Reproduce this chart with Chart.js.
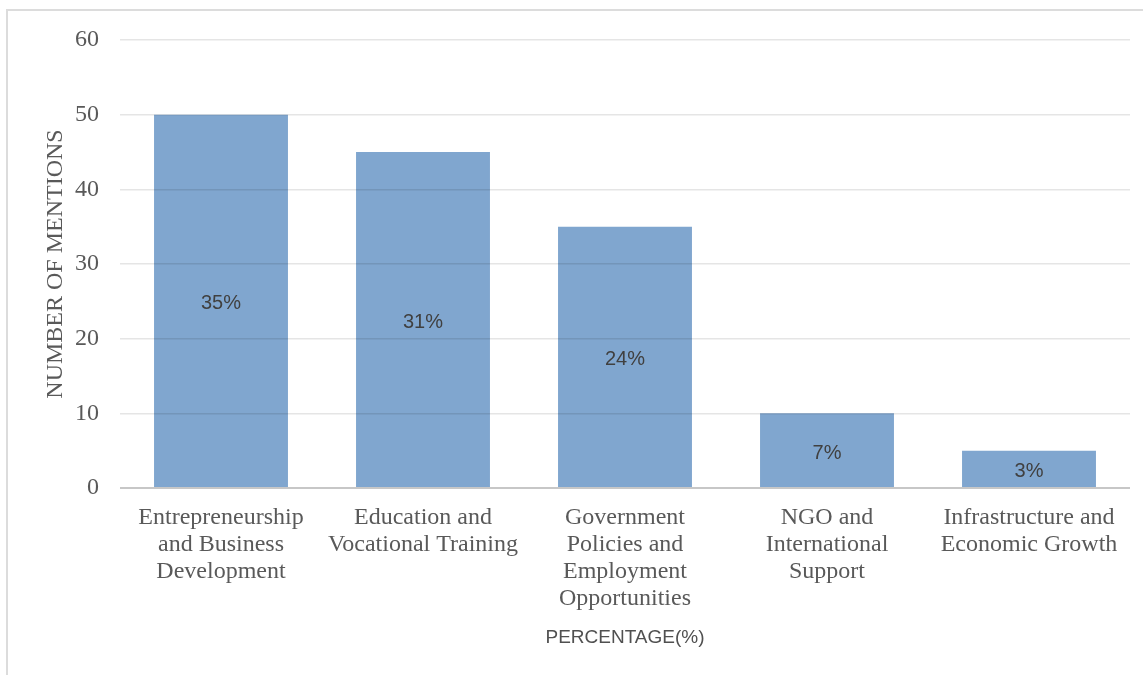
<!DOCTYPE html>
<html>
<head>
<meta charset="utf-8">
<script src="https://cdn.jsdelivr.net/npm/chart.js@4/dist/chart.umd.min.js"></script>
<style>
  html, body { margin: 0; padding: 0; background: #ffffff; overflow: hidden; }
  #frame {
    position: absolute; left: 6px; top: 9px; width: 1200px; height: 700px;
    border-left: 2px solid #dcdcdc; border-top: 2px solid #dcdcdc;
  }
  #wrap { position: absolute; left: 0; top: 0; width: 1143px; height: 675px; }
</style>
</head>
<body>
<div id="frame"></div>
<div id="wrap"><canvas id="chart" width="1143" height="675"></canvas></div>
<script>
// Categories (multi-line axis labels)
const categories = [
  ['Entrepreneurship', 'and Business', 'Development'],
  ['Education and', 'Vocational Training'],
  ['Government', 'Policies and', 'Employment', 'Opportunities'],
  ['NGO and', 'International', 'Support'],
  ['Infrastructure and', 'Economic Growth']
];

// Number of mentions per category
const mentions = [50, 45, 35, 10, 5];

// Share of mentions printed inside each bar
const percentLabels = ['35%', '31%', '24%', '7%', '3%'];

// Value axis ticks
const yTicks = [0, 10, 20, 30, 40, 50, 60];

const serif = '"Liberation Serif", "Times New Roman", serif';
const sans = '"Liberation Sans", Arial, sans-serif';

// Writes the percentage in the middle of each bar
const barLabels = {
  id: 'barLabels',
  afterDatasetsDraw(chart) {
    const ctx = chart.ctx;
    const meta = chart.getDatasetMeta(0);
    ctx.save();
    ctx.font = '20px ' + sans;
    ctx.fillStyle = '#404040';
    ctx.textAlign = 'center';
    ctx.textBaseline = 'middle';
    meta.data.forEach((bar, i) => {
      const p = bar.getProps(['x', 'y', 'base'], true);
      ctx.fillText(percentLabels[i], p.x, (p.y + p.base) / 2 + 3);
    });
    ctx.restore();
  }
};

new Chart(document.getElementById('chart'), {
  type: 'bar',
  data: {
    labels: categories,
    datasets: [{
      data: mentions,
      backgroundColor: '#80a6cf',
      borderWidth: 0,
      barPercentage: 0.663,
      categoryPercentage: 1.0
    }]
  },
  options: {
    responsive: false,
    animation: false,
    devicePixelRatio: 1,
    layout: { padding: { top: 40, right: 13, bottom: 0, left: 0 } },
    plugins: {
      legend: { display: false },
      tooltip: { enabled: false }
    },
    scales: {
      x: {
        grid: { display: false, drawTicks: false },
        border: { display: false },
        ticks: {
          color: '#595959',
          font: { family: serif, size: 24, lineHeight: '27px' },
          padding: 16,
          maxRotation: 0,
          minRotation: 0,
          autoSkip: false
        },
        title: {
          display: true,
          text: 'PERCENTAGE(%)',
          color: '#505050',
          font: { family: sans, size: 19, lineHeight: 1.2 },
          padding: { top: 0, bottom: 26 }
        },
        afterFit(scale) { scale.height = 187; }
      },
      y: {
        min: yTicks[0],
        max: yTicks[yTicks.length - 1],
        afterBuildTicks(scale) { scale.ticks = yTicks.map(v => ({ value: v })); },
        grid: {
          z: 1,
          drawTicks: false,
          color: ctx => (ctx.tick && ctx.tick.value === 0) ? 'rgba(0,0,0,0.22)' : 'rgba(0,0,0,0.10)',
          lineWidth: ctx => (ctx.tick && ctx.tick.value === 0) ? 2 : 1.5
        },
        border: { display: false },
        ticks: {
          color: '#595959',
          font: { family: serif, size: 24 },
          padding: 21
        },
        title: {
          display: true,
          text: 'NUMBER OF MENTIONS',
          color: '#595959',
          font: { family: serif, size: 24, lineHeight: 1.2 },
          padding: { top: 41, bottom: 0 }
        },
        afterFit(scale) { scale.width = 120; }
      }
    }
  },
  plugins: [barLabels]
});
</script>
</body>
</html>
